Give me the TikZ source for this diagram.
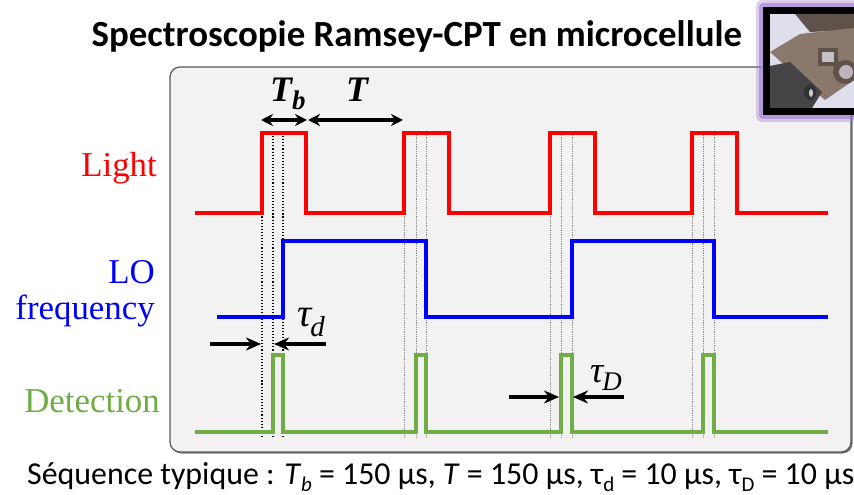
\documentclass[tikz,border=0pt]{standalone}
\usepackage{fontspec}
\setmainfont{Liberation Serif}
\newfontfamily\calibri{Carlito}
\usetikzlibrary{arrows.meta}
\definecolor{boxgray}{RGB}{242,242,242}
\definecolor{sigred}{RGB}{255,0,0}
\definecolor{sigblue}{RGB}{0,0,255}
\definecolor{siggreen}{RGB}{112,173,71}
\definecolor{glowpurple}{RGB}{160,120,210}
\definecolor{photobg}{RGB}{222,222,236}
\definecolor{plate}{RGB}{138,120,108}
\definecolor{platedark}{RGB}{95,82,75}
\definecolor{cyl}{RGB}{70,68,70}
\tikzset{
  lightsig/.style={draw=sigred, line width=4bp},
  losig/.style={draw=sigblue, line width=4.2bp},
  detsig/.style={draw=siggreen, line width=3.8bp},
  guideA/.style={draw=black, dotted, line width=1.1bp},
  guideB/.style={draw=black!45, densely dotted, line width=0.8bp},
  dimarrow/.style={draw=black, line width=4.5bp, -{Stealth[length=15bp,width=13bp]}},
  dimarrowb/.style={draw=black, line width=3.8bp, {Stealth[length=12bp,width=12bp]}-{Stealth[length=12bp,width=12bp]}},
  siglabel/.style={anchor=base east, inner sep=0pt, font=\fontsize{35}{35}\selectfont},
}
\begin{document}
\begin{tikzpicture}[x=1bp,y=-1bp]
\useasboundingbox (0,0) rectangle (854,495);
\fill[white] (0,0) rectangle (854,495);

% main box with slight shadow
\fill[rounded corners=10bp, black!55] (171.5,68.5) rectangle (852.5,453.5);
\draw[rounded corners=10bp, fill=boxgray, draw=black!65, line width=1.2bp] (170,67) rectangle (851,452);

% title
\node[anchor=base, inner sep=0pt, font=\calibri\bfseries\fontsize{37}{37}\selectfont] (title) at (417,47) {Spectroscopie Ramsey-CPT en microcellule};

% photo inset
\fill[glowpurple, opacity=0.35, rounded corners=6bp] (756,0) rectangle (870,122);
\fill[glowpurple, opacity=0.6, rounded corners=4bp] (759,3) rectangle (870,119);
\fill[black] (763,7) rectangle (870,115);
\begin{scope}
\clip (770,14) rectangle (854,108);
\fill[photobg] (770,14) rectangle (854,108);
\fill[platedark] (795,14) -- (854,14) -- (854,30) -- (810,32) -- cycle;
\fill[plate] (770,52) -- (800,34) -- (854,28) -- (854,80) -- (825,100) -- (790,70) -- cycle;
\fill[platedark] (818,48) rectangle (838,66);
\fill[photobg!70!plate] (822,52) rectangle (834,62);
\fill[platedark] (845,72) circle (12);
\fill[photobg!60!plate] (846,72) circle (7);
\fill[cyl] (770,66) -- (790,62) -- (822,92) -- (812,108) -- (770,108) -- cycle;
\fill[black!80] (810,92) ellipse (6 and 8);
\fill[white!80!black] (811,93) ellipse (2 and 4);
\end{scope}

% guide lines
\foreach \gx in {262,273,283}{\draw[guideA] (\gx,133) -- (\gx,437);}
\foreach \gx in {404,416,426,550,561,572,692,703,714}{\draw[guideB] (\gx,133) -- (\gx,437);}

% signals
\draw[lightsig] (195,213) -| (262,133) -| (306,213) -| (404,133) -| (449,213) -| (550,133) -| (595,213) -| (692,133) -| (737,213) -- (828,213);
\draw[losig] (217,317) -| (283,241) -| (426,317) -| (572,241) -| (714,317) -- (828,317);
\draw[detsig] (195,432) -| (273,355) -| (283,432) -| (416,355) -| (426,432) -| (561,355) -| (572,432) -| (703,355) -| (714,432) -- (828,432);

% signal labels
\node[siglabel, text=sigred] (light) at (157,177) {Light};
\node[siglabel, text=sigblue] (lo) at (155,284) {LO};
\node[siglabel, text=sigblue] (freq) at (155,320) {frequency};
\node[siglabel, text=siggreen] (det) at (160,412) {Detection};

% Tb and T arrows
\coordinate (tbL) at (261,120);
\coordinate (tbR) at (307,120);
\coordinate (tL) at (308,120);
\coordinate (tR) at (403,120);
\draw[dimarrowb] (tbL) -- (tbR);
\draw[dimarrowb] (tL) -- (tR);
\node[anchor=base west, inner sep=0pt, font=\bfseries\itshape\fontsize{36}{36}\selectfont] (tblab) at (270,102) {T\raisebox{-8bp}{\fontsize{27}{27}\selectfont b}};
\node[anchor=base west, inner sep=0pt, font=\bfseries\itshape\fontsize{36}{36}\selectfont] (tlab) at (346,102) {T};

% tau_d arrows
\coordinate (tdA) at (210,344);
\coordinate (tdB) at (261,344);
\coordinate (tdC) at (326,344);
\coordinate (tdD) at (274,344);
\draw[dimarrow] (tdA) -- (tdB);
\draw[dimarrow] (tdC) -- (tdD);
\node[anchor=base west, inner sep=0pt, font=\itshape\fontsize{40}{40}\selectfont] (tdlab) at (297,327) {τ\kern-1bp\raisebox{-10bp}{\fontsize{29}{29}\selectfont d}};

% tau_D arrows
\coordinate (tDA) at (509,397);
\coordinate (tDB) at (559,397);
\coordinate (tDC) at (624,397);
\coordinate (tDD) at (573,397);
\draw[dimarrow] (tDA) -- (tDB);
\draw[dimarrow] (tDC) -- (tDD);
\node[anchor=base west, inner sep=0pt, font=\itshape\fontsize{37}{37}\selectfont] (tDlab) at (590,382) {τ\kern-1bp\raisebox{-8bp}{\fontsize{27}{27}\selectfont D}};

% bottom caption
\node[anchor=base west, inner sep=0pt, font=\calibri\fontsize{32}{32}\selectfont] (caption) at (27,484) {Séquence typique : \textit{T}\raisebox{-7bp}{\fontsize{21}{21}\selectfont\textit{b}} = 150 µs, \textit{T} = 150 µs, τ\raisebox{-7bp}{\fontsize{21}{21}\selectfont d} = 10 µs, τ\raisebox{-7bp}{\fontsize{21}{21}\selectfont D} = 10 µs};
\end{tikzpicture}
\end{document}
